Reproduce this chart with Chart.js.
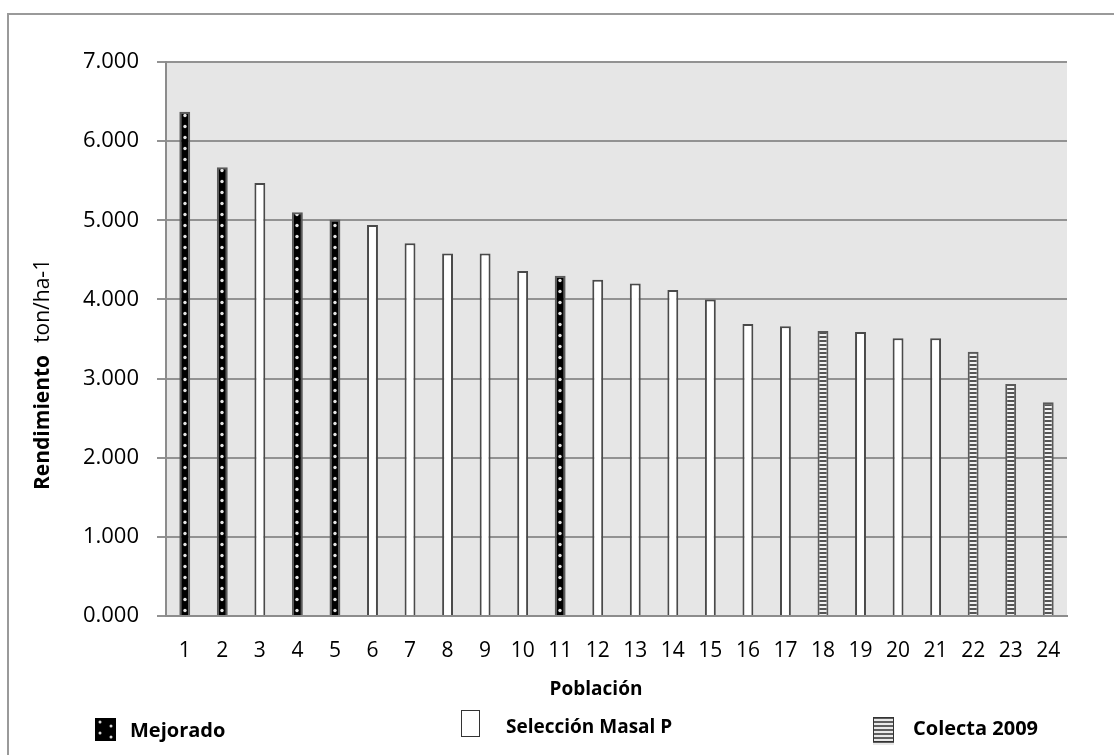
<!DOCTYPE html>
<html>
<head>
<meta charset="utf-8">
<script src="https://cdn.jsdelivr.net/npm/chart.js@4.4.1/dist/chart.umd.min.js"></script>
<style>
  html, body { margin: 0; padding: 0; background: #fff; }
  #wrap { width: 1114px; height: 755px; position: relative; }
</style>
</head>
<body>
<div id="wrap"><canvas id="chart" width="1114" height="755"></canvas></div>
<script>
// --- data ---
const poblaciones = ['1','2','3','4','5','6','7','8','9','10','11','12','13','14','15','16','17','18','19','20','21','22','23','24'];
const rendimiento = [6.37, 5.67, 5.47, 5.10, 5.01, 4.94, 4.71, 4.58, 4.58, 4.36, 4.30, 4.25,
                     4.20, 4.12, 4.00, 3.69, 3.66, 3.60, 3.59, 3.51, 3.51, 3.34, 2.93, 2.70];
// group of each population: M = Mejorado, S = Selección Masal P, C = Colecta 2009
const grupo = ['M','M','S','M','M','S','S','S','S','S','M','S','S','S','S','S','S','C','S','S','S','C','C','C'];
const series = ['Mejorado', 'Selección Masal P', 'Colecta 2009'];
const serieClave = ['M', 'S', 'C'];
const yMin = 0, yMax = 7, yStep = 1;

const FONT = "'Open Sans', sans-serif";

// --- fill patterns ---
function makeTile(w, h, paint) {
    const c = document.createElement('canvas');
    c.width = w; c.height = h;
    paint(c.getContext('2d'));
    return c;
}
const dotTile = makeTile(6, 11, g => {
    g.fillStyle = '#000'; g.fillRect(0, 0, 6, 11);
    g.fillStyle = '#e4e4e4';
    g.beginPath(); g.arc(3, 5.5, 1.7, 0, Math.PI * 2); g.fill();
});
const stripeTile = makeTile(1, 4, g => {
    g.fillStyle = '#f2f2f2'; g.fillRect(0, 0, 1, 4);
    g.fillStyle = '#555'; g.fillRect(0, 0, 1, 2);
});

function mejoradoFill(ctx) {
    const chart = ctx.chart;
    const xs = chart.scales && chart.scales.x;
    if (!xs || ctx.dataIndex === undefined) return '#000';
    const cx = Math.round(xs.getPixelForValue(ctx.dataIndex));
    const p = chart.ctx.createPattern(dotTile, 'repeat');
    p.setTransform(new DOMMatrix().translate(cx - 3, 0));
    return p;
}
function colectaFill(ctx) {
    return ctx.chart.ctx.createPattern(stripeTile, 'repeat');
}

const fills = { M: mejoradoFill, S: '#ffffff', C: colectaFill };
const borders = { M: '#5a5a5a', S: '#4a4a4a', C: '#5a5a5a' };

const datasets = serieClave.map((k, i) => ({
    label: series[i],
    data: rendimiento.map((v, j) => grupo[j] === k ? v : null),
    backgroundColor: fills[k],
    borderColor: borders[k],
    borderWidth: 2,
    grouped: false,
    barPercentage: 0.29,
    categoryPercentage: 1
}));

// plot background, outer frame, axis titles and legend
const decor = {
    id: 'decor',
    beforeDraw(chart) {
        const { ctx, chartArea: a } = chart;
        ctx.save();
        ctx.fillStyle = '#e6e6e6';
        ctx.fillRect(a.left, a.top, a.right - a.left, a.bottom - a.top);
        ctx.restore();
    },
    afterDraw(chart) {
        const ctx = chart.ctx;
        ctx.save();
        // outer frame
        ctx.strokeStyle = '#9a9a9a';
        ctx.lineWidth = 2;
        ctx.strokeRect(8, 14, 1120, 760);

        // y title
        ctx.save();
        ctx.translate(43, 490);
        ctx.rotate(-Math.PI / 2);
        ctx.fillStyle = '#000';
        ctx.textBaseline = 'middle';
        ctx.textAlign = 'left';
        ctx.font = 'bold 21px ' + FONT;
        ctx.fillText('Rendimiento', 0, 0);
        const w = ctx.measureText('Rendimiento').width;
        ctx.font = '21px ' + FONT;
        ctx.fillText('ton/ha-1', w + 12, 0);
        ctx.restore();

        // x title
        ctx.fillStyle = '#000';
        ctx.textAlign = 'center';
        ctx.textBaseline = 'middle';
        ctx.font = 'bold 19px ' + FONT;
        ctx.fillText('Población', 596, 690);

        // legend
        ctx.textAlign = 'left';
        ctx.font = 'bold 20px ' + FONT;
        // Mejorado swatch
        ctx.fillStyle = '#000';
        ctx.fillRect(95, 718, 21, 23);
        ctx.fillStyle = '#d8d8d8';
        [[100, 722], [111, 726], [100, 733], [111, 737]].forEach(([x, y]) => {
            ctx.beginPath(); ctx.arc(x, y, 1.5, 0, Math.PI * 2); ctx.fill();
        });
        ctx.fillStyle = '#000';
        ctx.fillText(series[0], 130, 731);
        // Selección swatch
        ctx.fillStyle = '#fff';
        ctx.fillRect(461, 710, 19, 27);
        ctx.strokeStyle = '#333';
        ctx.lineWidth = 1;
        ctx.strokeRect(461.5, 710.5, 18, 26);
        ctx.fillStyle = '#000';
        ctx.font = 'bold 19px ' + FONT;
        ctx.fillText(series[1], 506, 728);
        // Colecta swatch
        for (let y = 717; y < 742; y += 4) {
            ctx.fillStyle = '#5e5e5e'; ctx.fillRect(873, y, 21, 2);
            ctx.fillStyle = '#e8e8e8'; ctx.fillRect(873, y + 2, 21, 2);
        }
        ctx.strokeStyle = '#333';
        ctx.strokeRect(873.5, 717.5, 20, 24);
        ctx.fillStyle = '#000';
        ctx.font = 'bold 20px ' + FONT;
        ctx.fillText(series[2], 913, 729);
        ctx.restore();
    }
};

new Chart(document.getElementById('chart'), {
    type: 'bar',
    data: { labels: poblaciones, datasets },
    options: {
        responsive: false,
        animation: false,
        layout: { padding: { top: 62, right: 47, left: 0, bottom: 0 } },
        plugins: { legend: { display: false }, tooltip: { enabled: false } },
        scales: {
            x: {
                grid: { display: false, drawTicks: false },
                border: { display: true, color: '#8c8c8c', width: 2 },
                ticks: { color: '#000', font: { family: FONT, size: 21 }, padding: 22, maxRotation: 0, autoSkip: false },
                afterFit: axis => { axis.height = 139; }
            },
            y: {
                min: yMin, max: yMax,
                grid: { color: '#929292', lineWidth: 2, tickLength: 9 },
                border: { display: true, color: '#8c8c8c', width: 2 },
                ticks: {
                    stepSize: yStep, color: '#000', padding: 18,
                    font: { family: FONT, size: 22 },
                    callback: v => Number(v).toFixed(3)
                },
                afterFit: axis => { axis.width = 166; }
            }
        }
    },
    plugins: [decor]
});
</script>
</body>
</html>
